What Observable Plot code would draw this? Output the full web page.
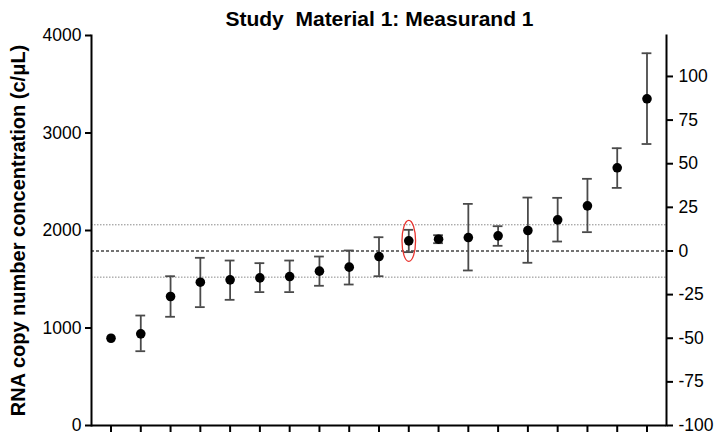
<!DOCTYPE html>
<html>
<head>
<meta charset="utf-8">
<script src="https://cdn.jsdelivr.net/npm/d3@7"></script>
<script src="https://cdn.jsdelivr.net/npm/@observablehq/plot@0.6"></script>
<style>
  html, body { margin: 0; padding: 0; background: #fff; }
  #wrap { position: relative; width: 722px; height: 438px; font-family: "Liberation Sans", Arial, sans-serif; }
  #title { position: absolute; top: 8px; left: 379.5px; transform: translateX(-50%); font-size: 21px; font-weight: bold; line-height: 1; white-space: pre; color: #000; }
  #chart { position: absolute; top: 0; left: 0; }
</style>
</head>
<body>
<div id="wrap">
  <div id="title">Study  Material 1: Measurand 1</div>
  <div id="chart"></div>
</div>
<script>
// ---- data ----
const TITLE = "Study  Material 1: Measurand 1";
const Y_LABEL = "RNA copy number concentration (c/\u03bcL)";
const labs   = ["1","2","3","4","5","6","7","8","9","10","11","12","13","14","15","16","17","18","19"];
const values = [895, 940, 1323, 1470, 1494, 1514, 1528, 1583, 1624, 1733, 1894, 1911, 1928, 1945, 2000, 2109, 2253, 2643, 3351];
const lower  = [null, 762, 1115, 1214, 1289, 1368, 1368, 1433, 1446, 1531, 1778, 1870, 1590, 1843, 1669, 1887, 1983, 2437, 2887];
const upper  = [null, 1128, 1531, 1720, 1692, 1665, 1692, 1733, 1795, 1931, 2007, 1952, 2273, 2044, 2338, 2335, 2530, 2844, 3818];
const highlighted = ["11"];
const MEAN = 1790;          // consensus value (0 % on right axis)
const LIMIT_PCT = 15;       // dotted limits, +/- %
const leftTicks = [0, 1000, 2000, 3000, 4000];
const rightTicks = [-100, -75, -50, -25, 0, 25, 50, 75, 100];

// ---- build table ----
const data = labs.map((lab, i) => ({lab, value: values[i], lo: lower[i], hi: upper[i]}));
const sel = data.filter(d => highlighted.includes(d.lab));
const limits = [MEAN * (1 - LIMIT_PCT / 100), MEAN * (1 + LIMIT_PCT / 100)];
const rightTickValues = rightTicks.map(p => MEAN * (1 + p / 100));

// ellipse symbol (shape only; placed through the scales)
const ellipseSymbol = {
  draw(ctx) {
    const rx = 6.8, ry = 20.5, k = 0.5523;
    ctx.moveTo(rx, 0);
    ctx.bezierCurveTo(rx, k * ry, k * rx, ry, 0, ry);
    ctx.bezierCurveTo(-k * rx, ry, -rx, k * ry, -rx, 0);
    ctx.bezierCurveTo(-rx, -k * ry, -k * rx, -ry, 0, -ry);
    ctx.bezierCurveTo(k * rx, -ry, rx, -k * ry, rx, 0);
    ctx.closePath();
  }
};

const FONT = "'Liberation Sans', Arial, sans-serif";

const chart = Plot.plot({
  width: 722,
  height: 438,
  marginLeft: 91,
  marginRight: 56,
  marginTop: 35,
  marginBottom: 13,
  style: {fontFamily: FONT, background: "transparent", color: "#000", overflow: "visible"},
  x: {type: "band", domain: labs, paddingInner: 0, paddingOuter: 0.155, round: false},
  y: {domain: [0, 4000]},
  marks: [
    Plot.ruleY(limits, {stroke: "#8a8a8a", strokeWidth: 1, strokeDasharray: "1.5,1.5"}),
    Plot.ruleY([MEAN], {stroke: "#444", strokeWidth: 1.5, strokeDasharray: "3,2"}),
    Plot.ruleX(data, {x: "lab", y1: "lo", y2: "hi", stroke: "#4a4a4a", strokeWidth: 1.8}),
    Plot.tickY(data, {x: "lab", y: "lo", stroke: "#4a4a4a", strokeWidth: 1.8, insetLeft: 10, insetRight: 10}),
    Plot.tickY(data, {x: "lab", y: "hi", stroke: "#4a4a4a", strokeWidth: 1.8, insetLeft: 10, insetRight: 10}),
    Plot.dot(data, {x: "lab", y: "value", r: 4.8, fill: "#000", stroke: "none"}),
    Plot.dot(sel, {x: "lab", y: "value", symbol: ellipseSymbol, fill: "none", stroke: "#e8322d", strokeWidth: 1.3}),
    Plot.axisY(leftTicks, {anchor: "left", tickSize: 6, tickPadding: 4, fontSize: 17.5, strokeWidth: 2, label: null,
      tickFormat: v => String(v)}),
    Plot.axisY(rightTickValues, {anchor: "right", tickSize: 6, tickPadding: 6, fontSize: 17.5, strokeWidth: 2, label: null,
      tickFormat: v => String(Math.round((v / MEAN - 1) * 100))}),
    Plot.axisX({tickSize: 7, strokeWidth: 2, tickFormat: () => "", label: null}),
    Plot.ruleY([0], {stroke: "#000", strokeWidth: 2}),
    Plot.frame({anchor: "left", stroke: "#000", strokeWidth: 2}),
    Plot.frame({anchor: "right", stroke: "#000", strokeWidth: 2}),
    Plot.text([Y_LABEL], {text: d => d, frameAnchor: "left", dx: -67, rotate: -90, textAnchor: "middle", lineAnchor: "bottom",
      fontSize: 20, fontWeight: "bold", fill: "#000"})
  ]
});
document.getElementById("chart").appendChild(chart);
</script>
</body>
</html>
